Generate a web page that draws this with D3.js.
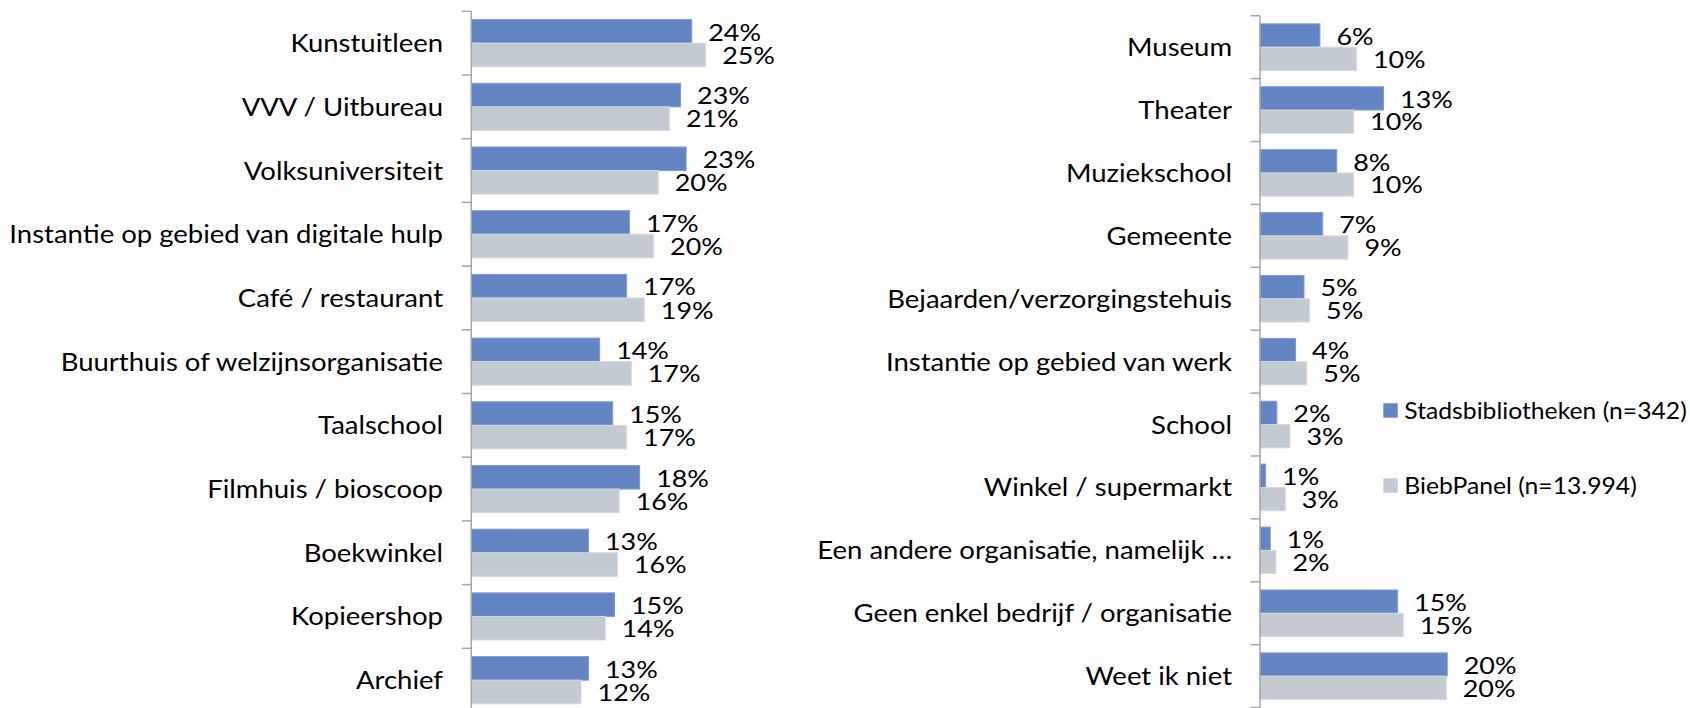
<!DOCTYPE html>
<html>
<head>
<meta charset="utf-8">
<script src="https://cdn.jsdelivr.net/npm/d3@7"></script>
<style>
  html, body { margin: 0; padding: 0; background: #ffffff; }
  svg { display: block; }
  text { font-family: Lato, "Open Sans", sans-serif; fill: #000; }
</style>
</head>
<body>
<svg id="chart" width="1690" height="708"></svg>
<script>
// ---- Data ----
const seriesNames = ["Stadsbibliotheken (n=342)", "BiebPanel (n=13.994)"];

const leftCategories = [
  "Kunstuitleen", "VVV / Uitbureau", "Volksuniversiteit",
  "Instantie op gebied van digitale hulp", "Café / restaurant",
  "Buurthuis of welzijnsorganisatie", "Taalschool", "Filmhuis / bioscoop",
  "Boekwinkel", "Kopieershop", "Archief"
];
const leftStads = [23.7, 22.5, 23.1, 17.0, 16.7, 13.8, 15.2, 18.1, 12.6, 15.4, 12.6];
const leftBieb  = [25.2, 21.3, 20.1, 19.6, 18.6, 17.2, 16.7, 15.9, 15.7, 14.4, 11.8];

const rightCategories = [
  "Museum", "Theater", "Muziekschool", "Gemeente",
  "Bejaarden/verzorgingstehuis", "Instantie op gebied van werk", "School",
  "Winkel / supermarkt", "Een andere organisatie, namelijk …",
  "Geen enkel bedrijf / organisatie", "Weet ik niet"
];
const rightStads = [6.4, 13.2, 8.2, 6.7, 4.7, 3.8, 1.8, 0.6, 1.1, 14.7, 20.0];
const rightBieb  = [10.3, 10.0, 10.0, 9.4, 5.3, 5.0, 3.2, 2.7, 1.7, 15.3, 19.9];

// ---- Style ----
const colors = ["#6385c4", "#c4cad1"];
const strokes = ["#7e9bd3", "#d6dadf"];
const catScaleX = 1.10, valScaleX = 1.17, legScaleX = 1.075;

const svg = d3.select("#chart");

function panel(cfg) {
  const x = d3.scaleLinear().domain([0, cfg.dmax]).range([cfg.x0, cfg.x0 + cfg.dmax * cfg.k]);
  const y = d3.scaleBand().domain(cfg.categories).range([cfg.top, cfg.top + cfg.band * cfg.categories.length]).padding(0);
  const bw = y.bandwidth();
  const off = bw * 0.13, bh = bw * 0.37;
  const g = svg.append("g");

  const rows = cfg.categories.map((c, i) => ({c, v: [cfg.s1[i], cfg.s2[i]]}));

  // bars + value labels
  [0, 1].forEach(s => {
    g.selectAll(null).data(rows).enter().append("rect")
      .attr("x", x(0))
      .attr("y", d => y(d.c) + off + s * bh)
      .attr("width", d => x(d.v[s]) - x(0))
      .attr("height", bh)
      .attr("fill", colors[s])
      .attr("stroke", strokes[s])
      .attr("stroke-width", 1);
    g.selectAll(null).data(rows).enter().append("text")
      .attr("transform", d => `translate(${x(d.v[s]) + 16.5},${y(d.c) + off + s * bh + bh / 2 + (s === 0 ? 1 : 0.5)}) scale(${valScaleX},1)`)
      .attr("dy", "0.36em")
      .style("font-size", "23px")
      .text(d => Math.round(d.v[s]) + "%");
  });

  // category labels via axis
  const pad = cfg.x0 - cfg.labelRight;
  const axis = d3.axisLeft(y).tickSize(0).tickPadding(pad);
  const ag = g.append("g").attr("transform", `translate(${cfg.x0},0)`).call(axis);
  ag.select(".domain").remove();
  ag.selectAll("text")
    .attr("x", 0)
    .attr("transform", `translate(${-pad},0) scale(${catScaleX},1)`)
    .attr("dy", "0.36em")
    .style("font-size", "25px")
    .style("font-family", "Lato, sans-serif")
    .attr("fill", "#000");

  // axis line + boundary ticks
  const yEnd = cfg.top + cfg.band * cfg.categories.length;
  g.append("line").attr("x1", cfg.x0).attr("x2", cfg.x0)
    .attr("y1", cfg.top).attr("y2", yEnd)
    .attr("stroke", "#a6a6a6").attr("stroke-width", 1.5);
  const bounds = cfg.categories.map(c => y(c)).concat([yEnd]);
  g.selectAll(null).data(bounds).enter().append("line")
    .attr("x1", cfg.x0 - 9.5).attr("x2", cfg.x0)
    .attr("y1", d => d).attr("y2", d => d)
    .attr("stroke", "#a6a6a6").attr("stroke-width", 1.5);
}

panel({categories: leftCategories, s1: leftStads, s2: leftBieb,
       x0: 471.3, top: 11.3, band: 63.7, k: 9.3, dmax: 26, labelRight: 443});
panel({categories: rightCategories, s1: rightStads, s2: rightBieb,
       x0: 1260, top: 15.7, band: 62.9, k: 9.36, dmax: 21, labelRight: 1232});

// legend
const legend = svg.append("g");
const legendY = [410.5, 485.5];
seriesNames.forEach((name, i) => {
  legend.append("rect").attr("x", 1383.3).attr("y", legendY[i] - 7.2)
    .attr("width", 14.4).attr("height", 14.4).attr("fill", colors[i]);
  legend.append("text")
    .attr("transform", `translate(1404.3,${legendY[i]}) scale(${legScaleX},1)`)
    .attr("dy", "0.36em").style("font-size", "23px").text(name);
});
</script>
</body>
</html>
